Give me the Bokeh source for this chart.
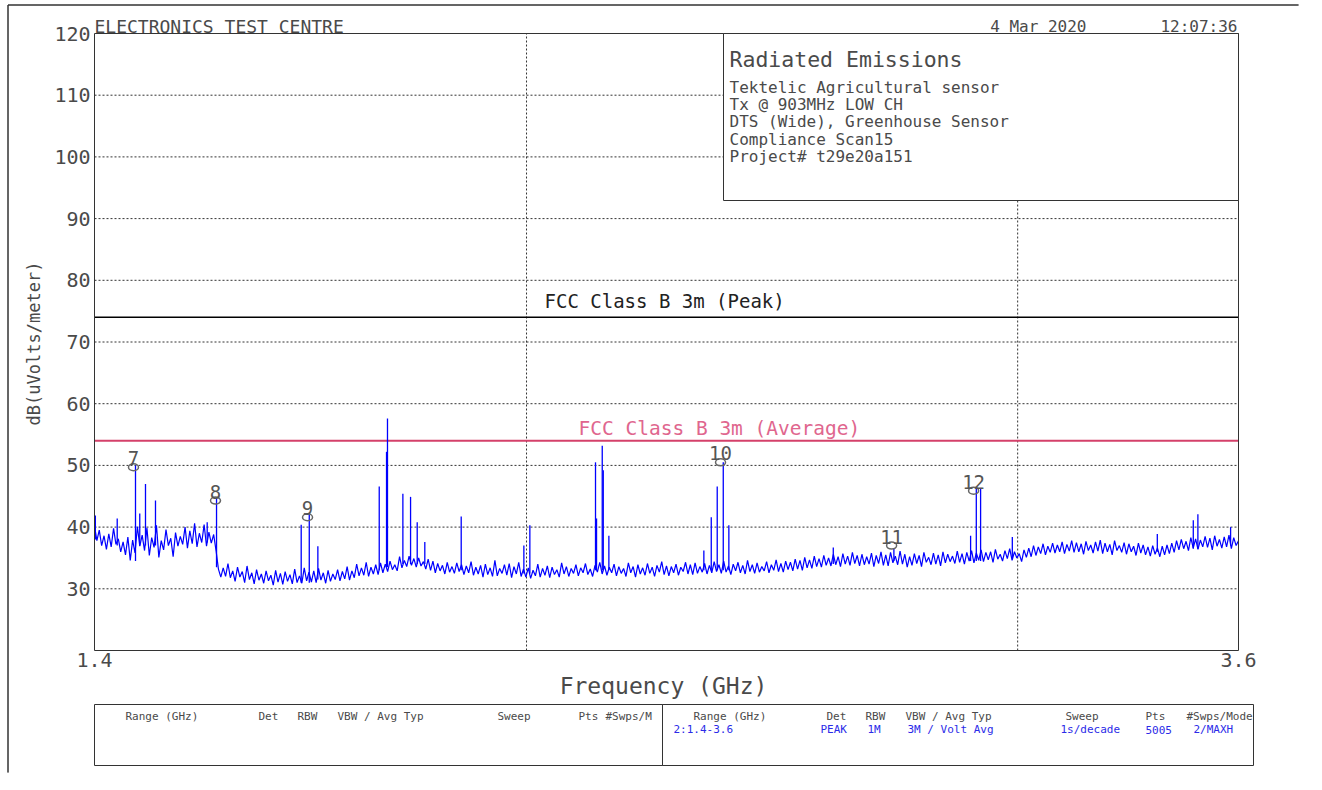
import numpy as np
from bokeh.plotting import figure
from bokeh.models import Label, BoxAnnotation, Range1d
from bokeh.embed import file_html
from bokeh.resources import INLINE
from bokeh.core.properties import value

# ---------------- data ----------------
F_START, F_STOP = 1.4, 3.6          # GHz (sweep range)
Y_MIN, Y_MAX = 20, 120              # dB(uV/m)

trace_db = [
    40.2, 37.8, 39.5, 37.0, 38.6, 36.4, 38.9, 36.8, 39.8, 37.2,
    38.1, 36.0, 37.6, 35.5, 38.4, 34.6, 37.9, 35.8, 40.1, 36.9,
    38.7, 36.2, 39.9, 35.4, 38.3, 36.7, 40.3, 35.1, 37.8, 36.3,
    39.6, 37.0, 38.2, 35.2, 39.1, 36.9, 38.5, 37.2, 40.0, 36.6,
    39.4, 37.3, 40.6, 36.8, 39.0, 37.5, 40.4, 36.9, 39.2, 37.4, 38.8, 36.2,
    33.2, 31.9, 33.4, 32.0, 34.1, 31.8, 32.9, 31.2, 33.5, 31.9,
    32.8, 31.0, 33.7, 31.5, 32.6, 30.8, 33.1, 31.4, 32.4, 30.9,
    32.9, 31.3, 32.2, 30.6, 33.0, 31.1, 32.5, 30.7, 32.8, 31.2,
    32.3, 30.8, 33.2, 31.0, 32.1, 30.9, 33.4, 31.3, 32.7, 31.1,
    32.9, 31.0, 33.3, 31.4, 32.6, 30.9, 33.0, 31.2, 32.4, 31.5,
    33.1, 31.3, 32.8, 31.6, 33.6, 31.4, 32.9, 31.8, 34.0, 32.1,
    33.4, 32.2, 34.3, 32.0, 33.5, 32.4, 33.9, 32.3, 34.2, 32.6,
    34.0, 32.8, 34.5, 33.1, 33.9, 32.9, 35.2, 33.4, 34.6, 33.6,
    35.3, 33.8, 34.9, 33.5, 35.0, 33.7, 34.4, 33.2, 34.8, 33.0,
    34.5, 32.6, 34.1, 32.9, 33.8, 32.4, 34.3, 32.7, 33.6, 32.5,
    34.2, 32.8, 33.9, 32.3, 33.7, 32.6, 34.4, 32.2, 33.5, 32.4,
    33.8, 31.9, 34.0, 32.3, 33.4, 32.0, 34.6, 32.1, 33.3, 32.5,
    33.9, 32.2, 34.1, 31.8, 33.6, 32.4, 34.3, 32.0, 33.2, 31.9,
    33.4, 31.7, 33.0, 32.1, 34.0, 31.9, 33.3, 32.2, 33.7, 31.8,
    33.5, 32.3, 33.1, 31.9, 34.2, 32.4, 33.6, 32.0, 33.3, 32.5,
    33.9, 32.1, 33.4, 32.6, 34.1, 32.3, 33.2, 32.0, 33.8, 32.7,
    34.3, 32.4, 33.7, 32.2, 33.5, 32.6, 34.0, 32.1, 33.6, 32.5,
    33.3, 32.0, 34.2, 32.6, 33.6, 31.9, 33.9, 32.4, 33.4, 32.2,
    34.1, 32.5, 33.5, 32.0, 33.8, 32.7, 34.4, 32.3, 33.7, 32.1,
    33.6, 32.6, 34.0, 32.2, 33.5, 32.8, 34.3, 32.4, 33.9, 32.3,
    34.2, 32.5, 33.6, 32.7, 34.1, 32.4, 33.8, 32.6, 34.4, 32.8,
    33.9, 32.5, 34.5, 32.7, 33.7, 32.3, 34.0, 32.9, 34.3, 32.6,
    33.8, 32.4, 34.6, 32.8, 33.9, 32.5, 34.2, 32.7, 33.6, 32.9,
    34.4, 32.6, 33.9, 33.0, 34.7, 32.8, 34.1, 32.7, 34.5, 33.1,
    34.3, 32.9, 34.8, 33.2, 34.6, 33.0, 35.1, 33.4, 34.7, 33.3,
    35.3, 33.6, 34.9, 33.5, 35.4, 33.8, 35.0, 33.7, 35.6, 33.9,
    35.2, 33.6, 35.7, 34.0, 35.3, 33.8, 35.9, 34.1, 35.4, 33.7,
    35.6, 33.9, 35.2, 34.0, 35.8, 33.6, 35.4, 34.1, 36.0, 33.8,
    35.5, 33.7, 35.9, 34.2, 35.3, 33.9, 36.1, 34.0, 35.6, 33.5,
    35.2, 33.8, 35.7, 34.1, 35.4, 33.6, 35.9, 34.3, 35.1, 33.9,
    35.8, 34.0, 35.5, 33.7, 36.0, 34.2, 35.6, 34.4, 35.3, 34.1,
    36.1, 34.3, 35.7, 34.0, 35.9, 34.5, 36.2, 34.2, 35.8, 34.6,
    36.3, 34.4, 35.9, 34.7, 36.0, 34.3, 36.4, 34.8, 35.6, 34.5,
    36.2, 34.9, 36.5, 34.6, 36.0, 35.0, 35.7, 34.4, 36.3, 35.1,
    36.6, 35.2, 37.0, 35.4, 36.8, 35.7, 37.3, 35.5, 36.9, 35.9,
    37.4, 35.8, 37.1, 36.0, 37.6, 35.7, 37.2, 36.1, 37.8, 35.9,
    37.5, 36.0, 37.3, 35.6, 37.7, 36.2, 37.1, 35.8, 37.6, 36.1,
    37.9, 35.7, 37.4, 36.0, 37.2, 35.5, 37.8, 36.2, 37.0, 35.9,
    37.5, 35.6, 37.3, 36.0, 36.9, 35.4, 37.4, 35.8, 37.1, 35.5,
    36.8, 35.3, 37.0, 35.6, 36.6, 35.2, 36.9, 35.5, 37.1, 35.7,
    37.4, 35.9, 37.8, 36.3, 38.0, 36.5, 37.7, 36.2, 38.3, 36.6,
    38.1, 36.4, 37.9, 36.8, 38.5, 36.7, 38.2, 36.3, 38.6, 36.9,
    38.0, 36.6, 38.4, 36.8, 38.7, 36.5, 38.3, 37.0, 37.8,
]

# narrow emissions (frequency GHz, floor dB, peak dB)
spike_f = [1.4010, 1.4265, 1.4482, 1.4533, 1.4602, 1.4723, 1.5365, 1.5484,
           1.6605, 1.6716, 1.6835, 1.7710, 1.7817, 1.7831, 1.8059, 1.8174,
           1.8274, 1.8389, 1.8950, 1.9956, 2.0055, 2.1172, 2.1190, 2.1290,
           2.1308, 2.1407, 2.3153, 2.3295, 2.3410, 2.3527, 2.3636, 2.5764,
           2.7086, 2.8857, 2.8993, 2.9096, 2.9868, 3.3666, 3.4681, 3.4813, 3.5766]
spike_base = [38.0, 37.0, 34.5, 37.0, 37.0, 37.0, 37.5, 33.5,
              31.0, 31.0, 31.5, 33.0, 33.5, 33.5, 34.0, 34.0,
              34.0, 34.0, 33.0, 32.5, 32.5, 33.0, 33.0, 33.0,
              33.0, 33.0, 33.0, 33.0, 33.0, 33.0, 33.0, 34.0,
              34.5, 34.5, 34.5, 34.5, 35.0, 36.0, 36.5, 36.5, 37.0]
spike_peak = [41.9, 41.4, 50.0, 42.2, 47.0, 44.3, 40.8, 44.6,
              40.4, 42.1, 36.9, 46.6, 52.2, 57.6, 45.4, 44.9,
              40.8, 37.6, 41.7, 37.0, 40.3, 50.5, 41.4, 53.2,
              49.2, 38.6, 36.2, 41.6, 46.6, 50.5, 40.3, 36.7,
              36.5, 38.6, 46.2, 46.2, 38.4, 38.9, 41.1, 42.1, 40.0]

marker_id = ["7", "8", "9", "10", "11", "12"]
marker_f = [1.4458, 1.5471, 1.6692, 2.3474, 2.7035, 2.8928]
marker_db = [49.7, 44.3, 41.6, 50.5, 37.0, 45.9]

peak_limit = 74
avg_limit = 54
peak_limit_name = "FCC Class B 3m (Peak)"
avg_limit_name = "FCC Class B 3m (Average)"

y_ticks = [30, 40, 50, 60, 70, 80, 90, 100, 110, 120]
y_tick_labels = ["30", "40", "50", "60", "70", "80", "90", "100", "110", "120"]
y_grid = [30, 40, 50, 60, 70, 80, 90, 100, 110]
x_ticks = [1.4, 3.6]
x_tick_labels = ["1.4", "3.6"]
x_grid = [2.0, 3.0]

info_title = "Radiated Emissions"
info_lines = ["Tektelic Agricultural sensor", "Tx @ 903MHz LOW CH",
              "DTS (Wide), Greenhouse Sensor", "Compliance Scan15",
              "Project# t29e20a151"]
table_headers_left = ["Range (GHz)", "Det", "RBW", "VBW / Avg Typ", "Sweep", "Pts", "#Swps/M"]
table_headers_right = ["Range (GHz)", "Det", "RBW", "VBW / Avg Typ", "Sweep", "Pts", "#Swps/Mode"]
table_values_right = ["2:1.4-3.6", "PEAK", "1M", "3M / Volt Avg", "1s/decade", "5005", "2/MAXH"]

trace_f = np.geomspace(F_START, F_STOP, len(trace_db))

# ---------------- layout (pixels on the canvas) ----------------
W, H = 1306, 774
PL, PR, PT, PB = 94, 1238, 33, 650      # plot area edges on the canvas

lx0, lx1 = np.log10(F_START), np.log10(F_STOP)
kx = (lx1 - lx0) / (PR - PL)
ky = (Y_MAX - Y_MIN) / (PB - PT)
x_range = Range1d(10 ** (lx0 - PL * kx), 10 ** (lx1 + (W - PR) * kx))
y_range = Range1d(Y_MIN - (H - PB) * ky, Y_MAX + PT * ky)

FONT = "DejaVu Sans Mono"
TXT = "#4a4a4a"
BLUE = "#0000FF"

p = figure(width=W, height=H, x_axis_type="log", x_range=x_range, y_range=y_range,
           output_backend="svg", toolbar_location=None, title=None,
           x_axis_location=None, y_axis_location=None, min_border=0)
p.background_fill_color = "white"
p.border_fill_color = "white"
p.outline_line_color = None
p.grid.visible = False

# grid
p.segment(x0=F_START, x1=F_STOP, y0=y_grid, y1=y_grid,
          line_color="#333333", line_dash="2 2", line_width=1)
p.segment(x0=x_grid, x1=x_grid, y0=Y_MIN, y1=Y_MAX,
          line_color="#333333", line_dash="2 2", line_width=1)

# limit lines
p.segment(x0=F_START, x1=F_STOP, y0=[peak_limit], y1=[peak_limit],
          line_color="black", line_width=1.5)
p.segment(x0=F_START, x1=F_STOP, y0=[avg_limit], y1=[avg_limit],
          line_color="#D4406A", line_width=2)

# trace
p.line(trace_f, trace_db, line_color=BLUE, line_width=1.2)
p.segment(x0=spike_f, y0=spike_base, x1=spike_f, y1=spike_peak,
          line_color=BLUE, line_width=1.3)

# markers
p.ellipse(x=marker_f, y=marker_db, width=10, height=7,
          width_units="screen", height_units="screen",
          fill_color=None, line_color="#666666", line_width=1.5)
p.text(x=marker_f, y=marker_db, text=marker_id, text_font=value(FONT),
       text_font_size="19px", text_color="#555555", text_align="center",
       text_baseline="alphabetic", y_offset=-9)

# tick labels
p.text(x=F_START, y=y_ticks, text=y_tick_labels, text_font=value(FONT),
       text_font_size="20px", text_color=TXT, text_align="right",
       text_baseline="middle", x_offset=-4)
p.text(x=x_ticks, y=Y_MIN, text=x_tick_labels, text_font=value(FONT),
       text_font_size="20px", text_color=TXT, text_align="center",
       text_baseline="top", y_offset=2)

# plot frame
p.add_layout(BoxAnnotation(left=F_START, right=F_STOP, bottom=Y_MIN, top=Y_MAX,
                           fill_color=None, fill_alpha=0,
                           line_color="#333333", line_width=1, line_alpha=1))


def lab(text, x, y, size, color=TXT, align="left", baseline="alphabetic", angle=0.0):
    p.add_layout(Label(x=x, y=y, x_units="canvas", y_units="canvas", text=text,
                       text_font=FONT, text_font_size=f"{size}px", text_color=color,
                       text_align=align, text_baseline=baseline, angle=angle))


def box(left, right, top, bottom, fill=None):
    p.add_layout(BoxAnnotation(left=left, right=right, top=top, bottom=bottom,
                               left_units="canvas", right_units="canvas",
                               top_units="canvas", bottom_units="canvas",
                               fill_color=fill, fill_alpha=1 if fill else 0,
                               line_color="#333333", line_width=1, line_alpha=1,
                               line_join="bevel"))


# outer page frame (top & left edges only)
box(7.5, 7.5, 4.5, H - 2)
box(7.5, W - 8, 4.5, 4.5)

# header
lab("ELECTRONICS TEST CENTRE", 94, 26, 18)
lab("4 Mar 2020", 1086, 26, 16, align="right")
lab("12:07:36", 1237, 26, 16, align="right")

# info box
box(723, 1238, 33, 200, fill="white")
lab(info_title, 729, 59, 21.5)
for t, yb in zip(info_lines, [87, 104, 121, 139, 156]):
    lab(t, 729, yb, 16)

# limit names
lab(peak_limit_name, 544, 300, 19, color="#222222")
lab(avg_limit_name, 578, 428, 19.5, color="#E0668E")

# axis titles
lab("Frequency (GHz)", 663, 685, 23, align="center", baseline="middle")
lab("dB(uVolts/meter)", 33, 343, 17, align="center", baseline="middle", angle=np.pi / 2)

# bottom table
box(94, 662, 704, 765)
box(662, 1253, 704, 765)
for t, x in zip(table_headers_left, [125, 258, 297, 337, 497, 578, 605]):
    lab(t, x, 716, 11)
for t, x in zip(table_headers_right, [693, 826, 865, 905, 1065, 1145, 1186]):
    lab(t, x, 716, 11)
for t, x in zip(table_values_right, [673, 820, 867, 907, 1060, 1145, 1193]):
    lab(t, x, 729, 11, color="#2B2BE8")

open("out.html", "w").write(file_html(p, INLINE))
